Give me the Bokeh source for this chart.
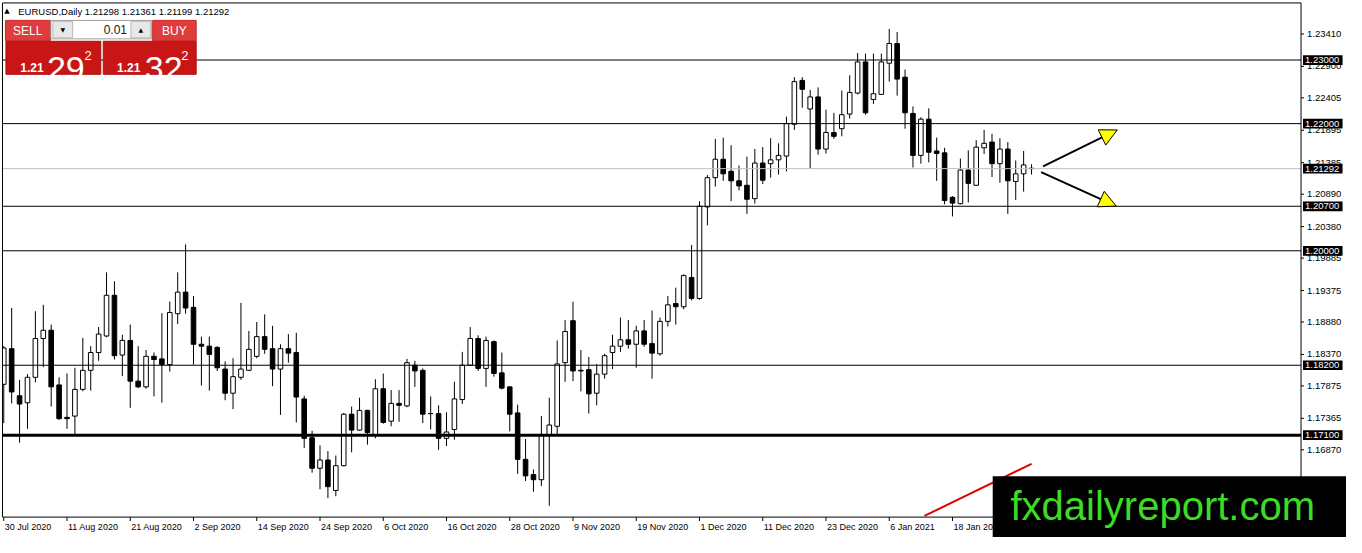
from bokeh.plotting import figure
from bokeh.models import Range1d, Arrow, NormalHead, ColumnDataSource
from bokeh.core.properties import value
from bokeh.embed import file_html
from bokeh.resources import INLINE

# ---------------- data ----------------
symbol = "EURUSD,Daily"
opens = [1.1790, 1.1846, 1.1772, 1.1761, 1.1801, 1.1862, 1.1875, 1.1789, 1.1738, 1.1740,
         1.1782, 1.1812, 1.1840, 1.1866, 1.1930, 1.1836, 1.1859, 1.1795, 1.1786, 1.1834,
         1.1830, 1.1821, 1.1901, 1.1935, 1.1911, 1.1853, 1.1850, 1.1848, 1.1814, 1.1776,
         1.1801, 1.1812, 1.1834, 1.1865, 1.1846, 1.1814, 1.1846, 1.1840, 1.1767, 1.1706,
         1.1658, 1.1671, 1.1623, 1.1662, 1.1743, 1.1718, 1.1749, 1.1711, 1.1783, 1.1732,
         1.1760, 1.1756, 1.1820, 1.1812, 1.1744, 1.1744, 1.1705, 1.1719, 1.1766, 1.1820,
         1.1862, 1.1815, 1.1857, 1.1808, 1.1786, 1.1745, 1.1672, 1.1648, 1.1640, 1.1711,
         1.1724, 1.1824, 1.1890, 1.1812, 1.1813, 1.1776, 1.1806, 1.1840, 1.1850, 1.1860,
         1.1853, 1.1874, 1.1854, 1.1838, 1.1889, 1.1917, 1.1912, 1.1958, 1.1925, 1.2069,
         1.2115, 1.2144, 1.2125, 1.2110, 1.2103, 1.2082, 1.2138, 1.2137, 1.2143, 1.2149,
         1.2199, 1.2268, 1.2223, 1.2242, 1.2160, 1.2186, 1.2192, 1.2215, 1.2248, 1.2297,
         1.2238, 1.2246, 1.2295, 1.2326, 1.2273, 1.2216, 1.2150, 1.2207, 1.2157, 1.2154,
         1.2084, 1.2074, 1.2127, 1.2103, 1.2162, 1.2171, 1.2137, 1.2160, 1.2109, 1.2121,
         1.21298]
highs = [1.1850, 1.1910, 1.1797, 1.1806, 1.1905, 1.1915, 1.1884, 1.1801, 1.1807, 1.1816,
         1.1863, 1.1850, 1.1880, 1.1966, 1.1952, 1.1868, 1.1884, 1.1850, 1.1844, 1.1840,
         1.1902, 1.1920, 1.1966, 1.2010, 1.1929, 1.1865, 1.1865, 1.1850, 1.1826, 1.1831,
         1.1918, 1.1874, 1.1888, 1.1900, 1.1882, 1.1853, 1.1869, 1.1871, 1.1772, 1.1717,
         1.1694, 1.1685, 1.1678, 1.1745, 1.1755, 1.1769, 1.1750, 1.1798, 1.1807, 1.1781,
         1.1781, 1.1830, 1.1827, 1.1815, 1.1771, 1.1757, 1.1746, 1.1794, 1.1841, 1.1880,
         1.1867, 1.1865, 1.1859, 1.1840, 1.1787, 1.1758, 1.1704, 1.1656, 1.1740, 1.1769,
         1.1859, 1.1891, 1.1920, 1.1844, 1.1833, 1.1822, 1.1838, 1.1868, 1.1895, 1.1891,
         1.1882, 1.1891, 1.1906, 1.1895, 1.1929, 1.1942, 1.1963, 1.2009, 1.2078, 1.2119,
         1.2176, 1.2178, 1.2166, 1.2134, 1.2148, 1.2160, 1.2163, 1.2177, 1.2169, 1.2211,
         1.2273, 1.2273, 1.2253, 1.2257, 1.2222, 1.2217, 1.2252, 1.2276, 1.2311, 1.2310,
         1.2310, 1.2310, 1.2349, 1.2344, 1.2285, 1.2227, 1.2210, 1.2224, 1.2178, 1.2162,
         1.2086, 1.2145, 1.2158, 1.2174, 1.2190, 1.2184, 1.2177, 1.2171, 1.2142, 1.2157,
         1.21361]
lows = [1.1729, 1.1760, 1.1698, 1.1720, 1.1793, 1.1817, 1.1755, 1.1734, 1.1720, 1.1711,
        1.1779, 1.1780, 1.1827, 1.1864, 1.1829, 1.1803, 1.1753, 1.1784, 1.1783, 1.1771,
        1.1761, 1.1810, 1.1885, 1.1901, 1.1821, 1.1788, 1.1780, 1.1811, 1.1765, 1.1751,
        1.1797, 1.1811, 1.1831, 1.1838, 1.1787, 1.1742, 1.1824, 1.1730, 1.1690, 1.1651,
        1.1625, 1.1611, 1.1614, 1.1661, 1.1683, 1.1717, 1.1695, 1.1705, 1.1728, 1.1724,
        1.1731, 1.1754, 1.1786, 1.1729, 1.1719, 1.1687, 1.1693, 1.1703, 1.1759, 1.1819,
        1.1811, 1.1786, 1.1802, 1.1782, 1.1716, 1.1649, 1.1638, 1.1621, 1.1630, 1.1599,
        1.1710, 1.1794, 1.1795, 1.1779, 1.1744, 1.1757, 1.1799, 1.1814, 1.1841, 1.1846,
        1.1816, 1.1849, 1.1799, 1.1835, 1.1881, 1.1884, 1.1908, 1.1922, 1.1923, 1.2040,
        1.2101, 1.2110, 1.2078, 1.2095, 1.2058, 1.2074, 1.2105, 1.2115, 1.2120, 1.2125,
        1.2190, 1.2225, 1.2129, 1.2151, 1.2153, 1.2176, 1.2180, 1.2208, 1.2246, 1.2214,
        1.2231, 1.2245, 1.2266, 1.2244, 1.2192, 1.2131, 1.2137, 1.2139, 1.2110, 1.2073,
        1.2054, 1.2073, 1.2076, 1.2102, 1.2152, 1.2116, 1.2107, 1.2058, 1.2080, 1.2093,
        1.21199]
closes = [1.1847, 1.1778, 1.1759, 1.1801, 1.1862, 1.1875, 1.1786, 1.1736, 1.1736, 1.1782,
          1.1812, 1.1840, 1.1869, 1.1930, 1.1835, 1.1859, 1.1795, 1.1786, 1.1834, 1.1829,
          1.1821, 1.1903, 1.1935, 1.1910, 1.1853, 1.1850, 1.1837, 1.1816, 1.1776, 1.1802,
          1.1814, 1.1845, 1.1865, 1.1845, 1.1814, 1.1846, 1.1839, 1.1770, 1.1705, 1.1658,
          1.1671, 1.1629, 1.1662, 1.1743, 1.1718, 1.1749, 1.1714, 1.1783, 1.1730, 1.1760,
          1.1757, 1.1824, 1.1811, 1.1743, 1.1744, 1.1705, 1.1715, 1.1767, 1.1820, 1.1862,
          1.1815, 1.1859, 1.1807, 1.1784, 1.1743, 1.1672, 1.1646, 1.1640, 1.1711, 1.1726,
          1.1822, 1.1873, 1.1811, 1.1811, 1.1775, 1.1806, 1.1835, 1.1850, 1.1860, 1.1853,
          1.1874, 1.1853, 1.1839, 1.1889, 1.1915, 1.1912, 1.1961, 1.1925, 1.2070, 1.2115,
          1.2144, 1.2121, 1.2110, 1.2102, 1.2081, 1.2138, 1.2111, 1.2143, 1.2150, 1.2200,
          1.2266, 1.2254, 1.2242, 1.2160, 1.2186, 1.2180, 1.2214, 1.2249, 1.2297, 1.2217,
          1.2247, 1.2297, 1.2326, 1.2270, 1.2217, 1.2150, 1.2207, 1.2155, 1.2153, 1.2079,
          1.2075, 1.2127, 1.2106, 1.2163, 1.2169, 1.2137, 1.2160, 1.2110, 1.2121, 1.2135,
          1.21292]

date_label_bars = [0, 8, 16, 24, 32, 40, 48, 56, 64, 72, 80, 88, 96, 104, 112, 120]
date_labels = ["30 Jul 2020", "11 Aug 2020", "21 Aug 2020", "2 Sep 2020", "14 Sep 2020",
               "24 Sep 2020", "6 Oct 2020", "16 Oct 2020", "28 Oct 2020", "9 Nov 2020",
               "19 Nov 2020", "1 Dec 2020", "11 Dec 2020", "23 Dec 2020", "6 Jan 2021",
               "18 Jan 2021"]
price_ticks = [1.23410, 1.22900, 1.22405, 1.21895, 1.21385, 1.20890, 1.20380, 1.19885,
               1.19375, 1.18880, 1.18370, 1.17875, 1.17365, 1.16870]
levels = [1.23000, 1.22000, 1.20700, 1.20000, 1.18200, 1.17100]
level_widths = [1, 1, 1, 1, 1, 3]
bid = 1.21292
sell_price = ("1.21", "29", "2")
buy_price = ("1.21", "32", "2")
lot = "0.01"
arrow_up = (131.46, 1.21329, 140.84, 1.21900)
arrow_down = (131.21, 1.21238, 140.71, 1.20703)
trend_line = (116.45, 1.1583, 130.0, 1.1665)
watermark = "fxdailyreport.com"

# ---------------- layout helpers (reference pixel -> data) ----------------
W, H = 1346, 537
BAR_PX, X_ORG = 8.0, 3.3            # bar spacing / first bar position (reference px)
PX_PRICE, Y_ORG = 0.00015272, 1.239362


def X(rx):
    return (rx - X_ORG) / BAR_PX


def Y(ry):
    return Y_ORG - PX_PRICE * ry


def P(price):
    return (Y_ORG - price) / PX_PRICE


CL, CR, CT, CB = 2, 1316, 2.5, 532   # chart area borders (reference px)
FONT = "Liberation Sans"

p = figure(width=W, height=H, output_backend="svg", toolbar_location=None,
           x_range=Range1d(X(0), X(1362)), y_range=Range1d(Y(553), Y(0)),
           x_axis_location=None, y_axis_location=None, title=None,
           min_border_left=0, min_border_right=0, min_border_top=0, min_border_bottom=0,
           background_fill_color="white", border_fill_color="white")
p.xgrid.visible = False
p.ygrid.visible = False
p.outline_line_color = None


def txt(rx, ry, s, size, color="black", align="left", baseline="middle",
        style="normal", font=FONT):
    p.text(x=[X(rx)], y=[Y(ry)], text=[s], text_font=value(font),
           text_font_size=value(size), text_color=color, text_align=value(align),
           text_baseline=value(baseline), text_font_style=value(style))


def box(rx0, ry0, rx1, ry1, fill, line=None):
    p.quad(left=[X(rx0)], right=[X(rx1)], top=[Y(ry0)], bottom=[Y(ry1)],
           fill_color=fill, line_color=line, line_width=1)


# ---------------- candles ----------------
idx = list(range(len(opens)))
src = ColumnDataSource(dict(
    x=idx, o=opens, h=highs, l=lows, c=closes,
    top=[max(o, c) for o, c in zip(opens, closes)],
    bottom=[min(o, c) for o, c in zip(opens, closes)],
    fill=["white" if c >= o else "black" for o, c in zip(opens, closes)],
))
BW = 0.58
p.segment(x0="x", y0="l", x1="x", y1="h", source=src, line_color="black", line_width=1)
p.vbar(x="x", top="top", bottom="bottom", width=BW, fill_color="fill",
       line_color="black", line_width=1, source=src)
doji = [i for i in idx if abs(opens[i] - closes[i]) < 0.00005]
p.segment(x0=[i - BW / 2 for i in doji], x1=[i + BW / 2 for i in doji],
          y0=[opens[i] for i in doji], y1=[opens[i] for i in doji],
          line_color="black", line_width=1)
# white margin left of the chart border (clips the first, partly hidden bar)
box(-5, -5, CL, 560, "white")

# ---------------- horizontal levels ----------------
p.segment(x0=[X(CL)] * len(levels), x1=[X(CR)] * len(levels), y0=levels, y1=levels,
          line_color="black", line_width=level_widths)
p.segment(x0=[X(CL)], x1=[X(CR)], y0=[bid], y1=[bid], line_color="#c0c0c0", line_width=1)

# trend line
p.segment(x0=[trend_line[0]], y0=[trend_line[1]], x1=[trend_line[2]], y1=[trend_line[3]],
          line_color="#e00000", line_width=2)

# ---------------- chart border, price scale and time scale ----------------
p.segment(x0=[X(CL), X(CL), X(CR), X(CL)], y0=[Y(CT), Y(CT), Y(CT), Y(CB)],
          x1=[X(CL), X(CR), X(CR), X(CR)], y1=[Y(CB), Y(CT), Y(CB), Y(CB)],
          line_color="black", line_width=1)
p.segment(x0=[X(CR)] * len(price_ticks), x1=[X(CR + 3)] * len(price_ticks),
          y0=price_ticks, y1=price_ticks, line_color="black", line_width=1)
p.text(x=[X(CR + 6)] * len(price_ticks), y=price_ticks,
       text=[f"{t:.5f}" for t in price_ticks], text_font=value(FONT),
       text_font_size=value("9.5px"), text_color="black", text_align=value("left"),
       text_baseline=value("middle"))
p.segment(x0=date_label_bars, x1=date_label_bars, y0=[Y(CB)] * len(date_label_bars),
          y1=[Y(CB + 4)] * len(date_label_bars), line_color="black", line_width=1)
p.text(x=date_label_bars, y=[Y(542)] * len(date_label_bars), text=date_labels,
       x_offset=1, text_font=value(FONT), text_font_size=value("9px"),
       text_color="black", text_align=value("left"), text_baseline=value("middle"))

# price boxes on the scale
box_levels = levels + [bid]
p.quad(left=[X(CR + 2)] * len(box_levels), right=[X(CR + 42)] * len(box_levels),
       top=[Y(P(v) - 5) for v in box_levels], bottom=[Y(P(v) + 5) for v in box_levels],
       fill_color="black", line_color=None)
p.text(x=[X(CR + 4)] * len(box_levels), y=box_levels,
       text=[f"{v:.5f}" for v in box_levels], text_font=value(FONT),
       text_font_size=value("9.5px"), text_color="white", text_align=value("left"),
       text_baseline=value("middle"))

# ---------------- header / one-click trading panel ----------------
txt(6.5, 10.5, "\u25b2", "7px", align="center", font="DejaVu Sans")
txt(18, 11, f"{symbol} {opens[-1]:.5f} {highs[-1]:.5f} {lows[-1]:.5f} {closes[-1]:.5f}",
    "9.5px")

box(5, 20.5, 50.5, 41.5, "#e03c3c", "#c82828")
box(51, 20.5, 153, 39.5, "white", "#a0a0a0")
box(53, 21.5, 73, 38.5, "#e8e8e8", "#b8b8b8")
box(132, 21.5, 152, 38.5, "#e8e8e8", "#b8b8b8")
box(154, 20.5, 198, 41.5, "#e03c3c", "#c82828")
box(5.5, 42, 101.5, 76, "#c81616", "#b01010")
box(104, 42, 198, 76, "#c81616", "#b01010")

txt(27.5, 31, "SELL", "12px", "white", align="center")
txt(176, 31, "BUY", "12px", "white", align="center")
txt(63, 30, "\u25bc", "6px", align="center", font="DejaVu Sans")
txt(142, 30, "\u25b2", "6px", align="center", font="DejaVu Sans")
txt(128, 30, lot, "12px", "#202020", align="right")

for (small, big, sup), x_small, x_big, x_sup in ((sell_price, 20, 47, 85),
                                                 (buy_price, 118, 146, 183)):
    txt(x_small, 69.5, small, "12px", "white", baseline="alphabetic", style="bold")
    txt(x_big, 70.5, big, "34px", "white", baseline="alphabetic")
    txt(x_sup, 57, sup, "13px", "white", baseline="alphabetic")

# ---------------- arrows ----------------
for a in (arrow_up, arrow_down):
    p.add_layout(Arrow(end=NormalHead(size=17, fill_color="#ffff00", line_color="black",
                                      line_width=1),
                       x_start=a[0], y_start=a[1], x_end=a[2], y_end=a[3],
                       line_color="black", line_width=2))

# ---------------- watermark ----------------
box(1004, 490, 1370, 560, "black")
txt(1022, 521, watermark, "40px", "#3ddc24", baseline="middle")

open("out.html", "w").write(file_html(p, INLINE))
